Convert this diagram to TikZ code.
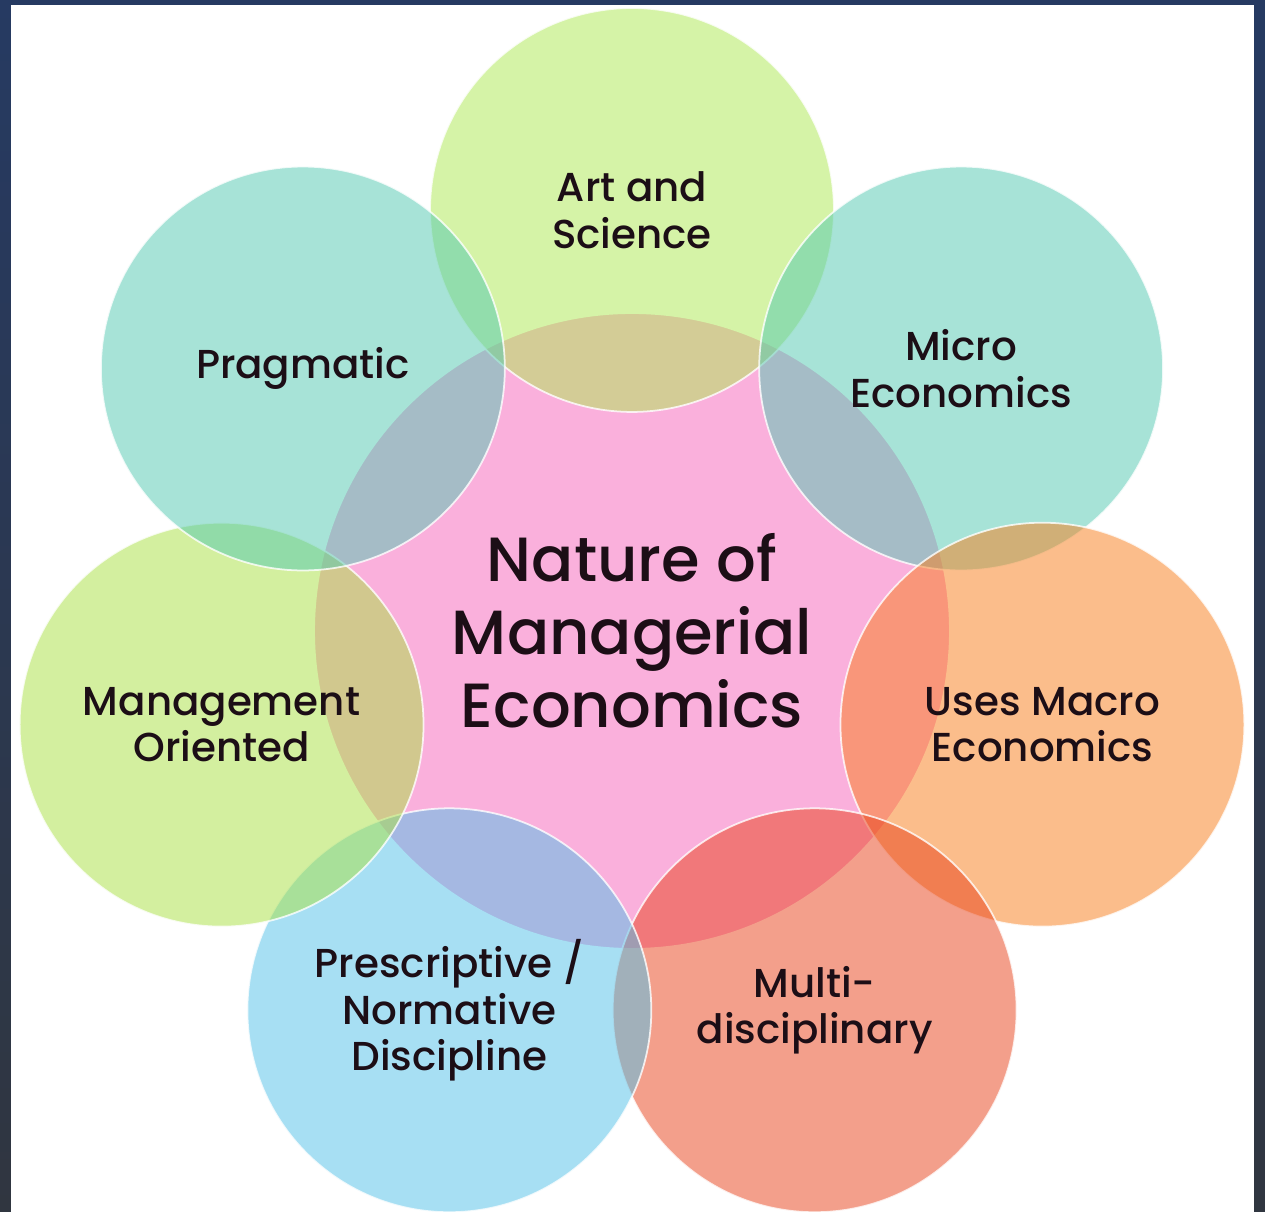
\documentclass[tikz,border=0pt]{standalone}
\usepackage{fontspec}
\IfFontExistsTF{Poppins Medium}
  {\setmainfont{Poppins Medium}}
  {\setmainfont{Poppins}[FakeBold=0.8]}
\usetikzlibrary{calc}

\definecolor{pinkhub}{RGB}{250,176,220}
\definecolor{artgreen}{RGB}{173,233,81}
\definecolor{microteal}{RGB}{81,201,177}
\definecolor{macroorange}{RGB}{249,125,25}
\definecolor{multired}{RGB}{233,65,25}
\definecolor{normblue}{RGB}{81,193,233}
\definecolor{mgmtgreen}{RGB}{169,225,65}
\definecolor{pragteal}{RGB}{81,201,177}
\definecolor{ink}{RGB}{28,14,22}
\definecolor{frametop}{RGB}{38,58,98}
\definecolor{framebottom}{RGB}{48,54,64}

\begin{document}
\begin{tikzpicture}[
    x=0.02cm, y=0.02cm,
    hub/.style={
      circle,
      minimum size=12.72cm,
      inner sep=0pt,
      fill=pinkhub,
      draw=white,
      line width=1pt,
      text=ink,
      align=center,
      font=\fontsize{35.5}{41.5}\selectfont
    },
    petal/.style={
      circle,
      minimum size=8.08cm,
      inner sep=0pt,
      fill=#1,
      fill opacity=0.5,
      text opacity=1,
      draw=white,
      draw opacity=0.8,
      line width=1pt,
      text=ink,
      align=center,
      font=\fontsize{23}{26.5}\selectfont
    }]
  % frame and page
  \shade[top color=frametop, bottom color=framebottom] (0,0) rectangle (1265,1212);
  \fill[white] (11,0) rectangle (1254,1207);
  \useasboundingbox (0,0) rectangle (1265,1212);

  \node[hub] (nature) at (632,581) {Nature of\\Managerial\\Economics};

  % seven petals around the hub
  \node[petal=artgreen] (art) at ($(nature)+(90:421)$) {Art and\\Science};
  \node[petal=microteal] (micro) at ($(nature)+({90-360/7}:421)$) {Micro\\Economics};
  \node[petal=macroorange] (macro) at ($(nature)+({90-2*360/7}:421)$) {Uses Macro\\Economics};
  \node[petal=multired] (multi) at ($(nature)+({90-3*360/7}:421)$) {Multi-\\disciplinary};
  \node[petal=normblue] (normative) at ($(nature)+({90-4*360/7}:421)$) {Prescriptive /\\Normative\\Discipline};
  \node[petal=mgmtgreen] (management) at ($(nature)+({90-5*360/7}:421)$) {Management\\Oriented};
  \node[petal=pragteal] (pragmatic) at ($(nature)+({90-6*360/7}:421)$) {Pragmatic};
\end{tikzpicture}
\end{document}
